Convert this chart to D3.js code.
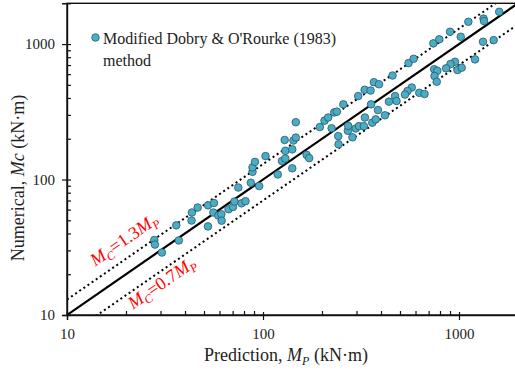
<!DOCTYPE html>
<html>
<head>
<meta charset="utf-8">
<script src="https://cdn.jsdelivr.net/npm/d3@7"></script>
<style>
  body { margin: 0; background: #fff; }
  svg { display: block; }
  text { font-family: "Liberation Serif", "Times New Roman", serif; }
</style>
</head>
<body>
<svg id="chart" width="515" height="371"></svg>
<script>
// Predicted moment M_P (kN·m) for each case
const predicted = [
  27.9, 28.1, 30.5, 36.1, 37.2, 43.2, 43.4, 46.4, 52.4, 52.4,
  55.8, 56.2, 59.2, 61.3, 61.5, 66.7, 70.3, 71.5, 74.8, 77.7,
  81.4, 86.7, 88.4, 88.4, 91.0, 95.6, 103, 119, 125, 130,
  130, 129, 141, 141, 143, 147, 147, 167, 172, 195,
  206, 215, 224, 231, 238, 242, 243, 257, 271, 272,
  286, 297, 306, 309, 327, 331, 330, 354, 356, 361,
  368, 386, 391, 419, 439, 472, 480, 376, 458, 553,
  587, 574, 546, 530, 627, 667, 740, 793, 900, 1021,
  1116, 1334, 1342, 1604, 1503, 1326, 1207, 954, 905, 859,
  747, 775, 982, 1032, 750, 770
];
// Numerical moment M_C (kN·m) for the same cases
const numerical = [
  35.8, 33.1, 28.9, 45.9, 35.5, 49.8, 57.1, 62.1, 45.1, 64.5,
  57.1, 67.1, 54.2, 55.4, 49.7, 60.3, 62.7, 68.8, 87.3, 66.7,
  69.2, 94.7, 114, 123, 135, 89.5, 149, 109, 137, 143,
  163, 196, 121, 167, 194, 204, 265, 152, 144, 244,
  272, 287, 239, 313, 317, 209, 182, 359, 229, 249,
  205, 238, 413, 248, 248, 287, 460, 454, 359, 263,
  523, 326, 505, 298, 376, 413, 380, 278, 586, 724,
  779, 478, 450, 424, 437, 428, 1012, 1085, 1232, 1132,
  1461, 1542, 1478, 1731, 1070, 1040, 771, 740, 712, 662,
  652, 635, 643, 669, 581, 527
];
const xTickValues = [10, 100, 1000];
const yTickValues = [10, 100, 1000];
const ratios = [1, 1.3, 0.7];           // M_C = k · M_P reference lines
const legendLines = ["Modified Dobry & O'Rourke (1983)", "method"];

const svg = d3.select("#chart");
const x = d3.scaleLog().domain([10, 2000]).range([67, 518]);
const y = d3.scaleLog().domain([10, 2000]).range([315, 3.3]);

const [x0, x1] = x.range();
const [y0, y1] = y.range();

svg.append("defs").append("clipPath").attr("id", "plot-clip")
  .append("rect").attr("x", x0).attr("y", y1).attr("width", x1 - x0).attr("height", y0 - y1);

// reference lines
const plot = svg.append("g").attr("clip-path", "url(#plot-clip)");
const dom = x.domain();
ratios.forEach(k => {
  plot.append("line")
    .attr("x1", x(dom[0])).attr("y1", y(k * dom[0]))
    .attr("x2", x(dom[1])).attr("y2", y(k * dom[1]))
    .attr("stroke", "#000")
    .attr("stroke-width", k === 1 ? 2.2 : 2)
    .attr("stroke-dasharray", k === 1 ? null : "2,3");
});

// data points
plot.selectAll("circle.pt")
  .data(predicted.map((p, i) => [p, numerical[i]]))
  .join("circle")
  .attr("class", "pt")
  .attr("cx", d => x(d[0]))
  .attr("cy", d => y(d[1]))
  .attr("r", 3.8)
  .attr("fill", "#4bacc6")
  .attr("stroke", "#2a5866")
  .attr("stroke-width", 0.8);

// frame
svg.append("rect")
  .attr("x", x0).attr("y", y1).attr("width", x1 - x0).attr("height", y0 - y1)
  .attr("fill", "none").attr("stroke", "#111").attr("stroke-width", 1.4);

// axes: major ticks cross the axis line, minor ticks point inward
const minorX = x.ticks().filter(v => !xTickValues.includes(v));
const minorY = y.ticks().filter(v => !yTickValues.includes(v));

const gx = svg.append("g").attr("transform", `translate(0,${y0})`)
  .call(d3.axisBottom(x).tickValues(xTickValues).tickFormat(d3.format("d")).tickSize(5).tickPadding(8));
gx.selectAll(".tick line").attr("y1", -3);
svg.append("g").attr("transform", `translate(0,${y0})`)
  .call(d3.axisBottom(x).tickValues(minorX).tickFormat("").tickSize(-4))
  .select(".domain").remove();

const gy = svg.append("g").attr("transform", `translate(${x0},0)`)
  .call(d3.axisLeft(y).tickValues(yTickValues).tickFormat(d3.format("d")).tickSize(5).tickPadding(7));
gy.selectAll(".tick line").attr("x1", 4);
svg.append("g").attr("transform", `translate(${x0},0)`)
  .call(d3.axisLeft(y).tickValues(minorY).tickFormat("").tickSize(-4))
  .select(".domain").remove();

svg.selectAll(".domain").attr("stroke", "#111").attr("stroke-width", 1.4);
svg.selectAll(".tick line").attr("stroke", "#111").attr("stroke-width", 1.2);
svg.selectAll(".tick text").attr("font-size", 15).attr("fill", "#222")
  .style("font-family", '"Liberation Serif", "Times New Roman", serif');

// axis titles
const xt = svg.append("text").attr("x", 286).attr("y", 361)
  .attr("text-anchor", "middle").attr("font-size", 18).attr("fill", "#222");
xt.append("tspan").text("Prediction, ");
xt.append("tspan").attr("font-style", "italic").text("M");
xt.append("tspan").attr("font-style", "italic").attr("font-size", 12).attr("dy", 4).text("P");
xt.append("tspan").attr("dy", -4).text(" (kN·m)");

const yt = svg.append("text").attr("transform", "translate(24,178) rotate(-90)")
  .attr("text-anchor", "middle").attr("font-size", 18).attr("fill", "#222");
yt.append("tspan").text("Numerical, ");
yt.append("tspan").attr("font-style", "italic").text("Mc");
yt.append("tspan").text(" (kN·m)");

// ratio labels along the dotted lines
const theta = Math.atan2(y(10) - y(100), x(100) - x(10)) * 180 / Math.PI;
function ratioLabel(k, mp, offset, text) {
  const t = svg.append("text")
    .attr("transform", `translate(${x(mp)},${y(k * mp)}) rotate(${-theta})`)
    .attr("y", offset).attr("font-size", 18).attr("fill", "#ff0000");
  t.append("tspan").attr("font-style", "italic").text("M");
  t.append("tspan").attr("font-style", "italic").attr("font-size", 12).attr("dy", 4).text("C");
  t.append("tspan").attr("dy", -4).text(text);
  t.append("tspan").attr("font-style", "italic").text("M");
  t.append("tspan").attr("font-style", "italic").attr("font-size", 12).attr("dy", 4).text("P");
}
ratioLabel(1.3, 15, -11, "=1.3");
ratioLabel(0.7, 19.5, 16, "=0.7");

// legend
const lg = svg.append("g");
lg.append("circle").attr("cx", 95.5).attr("cy", 37.5).attr("r", 3.8)
  .attr("fill", "#4bacc6").attr("stroke", "#2a5866").attr("stroke-width", 0.8);
lg.selectAll("text").data(legendLines).join("text")
  .attr("x", 103).attr("y", (d, i) => 44 + i * 22)
  .attr("font-size", 16).attr("fill", "#222")
  .text(d => d);
</script>
</body>
</html>
